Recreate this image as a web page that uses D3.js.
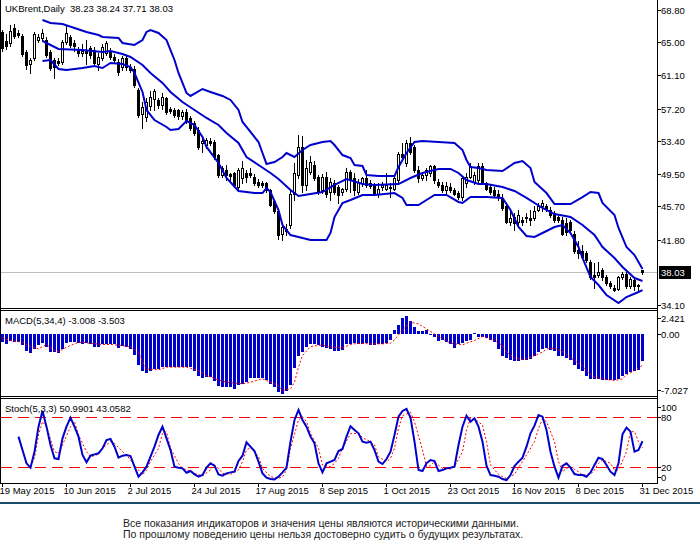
<!DOCTYPE html>
<meta charset="utf-8">
<script src="https://d3js.org/d3.v7.min.js"></script>
<style>
  body { margin: 0; background: #fff; }
  text { font-family: "Liberation Sans", Arial, sans-serif; font-size: 9.5px; fill: #000; }
  .foot { font-size: 10.5px; fill: #222; }
</style>
<div id="chart"></div>
<script>

// UKBrent daily, 19 May 2015 .. 31 Dec 2015 (161 bars)
var opens = [66.2,65.1,64.9,66.7,66.1,65.8,63.9,62.4,63.1,65.3,
  65.5,65.3,63.9,62.9,62.8,62.7,65.0,65.6,64.9,64.1,
  63.8,64.0,64.3,64.1,62.4,63.1,63.8,63.9,63.3,62.7,
  62.1,63.1,62.1,61.9,59.4,56.6,56.2,57.5,58.3,58.2,
  57.6,58.4,57.1,57.0,57.0,56.3,56.8,56.1,55.5,54.7,
  53.2,52.9,53.4,53.3,51.7,49.4,50.0,49.5,49.6,48.0,
  49.0,49.6,49.6,49.2,48.6,48.4,48.4,47.6,46.3,45.1,
  42.5,43.0,43.5,47.2,49.4,52.7,48.2,49.8,50.6,49.2,
  47.6,49.2,47.4,48.4,48.0,47.4,47.8,49.8,49.0,47.4,
  48.4,49.0,48.4,48.2,47.2,48.0,47.8,48.0,47.8,48.8,
  51.9,50.8,53.1,52.7,50.0,49.0,49.4,49.6,50.4,48.6,
  48.2,47.6,48.0,47.6,47.3,46.8,48.4,49.2,48.6,48.8,
  50.4,48.4,48.0,47.6,47.2,46.6,45.7,43.9,44.5,43.9,
  44.1,44.3,44.3,44.3,45.3,45.7,45.7,45.3,44.9,44.5,
  44.1,43.7,43.9,42.5,40.6,40.4,40.2,39.2,37.6,37.6,
  38.2,37.4,36.7,36.1,36.0,37.4,37.8,36.3,37.0,36.4,
  38.23];
var highs = [66.5,66.0,67.0,67.1,66.4,66.0,64.1,63.2,66.2,66.0,
  66.6,65.6,64.1,63.1,63.1,65.3,66.9,65.9,65.3,64.4,
  64.8,65.3,64.6,64.4,63.7,64.8,65.2,64.3,63.6,63.0,
  63.4,63.5,62.4,62.2,59.6,58.0,58.4,59.3,59.5,58.5,
  59.0,58.6,57.4,57.3,57.2,57.0,57.2,56.3,55.8,55.0,
  53.6,53.8,53.7,53.5,51.9,50.5,50.6,49.6,49.8,50.2,
  51.0,50.0,50.2,49.5,48.9,48.7,48.6,47.8,46.5,45.3,
  43.6,43.6,47.5,50.8,54.1,54.0,51.2,51.6,51.0,49.4,
  49.5,49.8,49.0,48.8,48.2,47.9,50.2,50.0,49.6,48.9,
  49.2,50.0,48.8,48.4,48.4,48.6,49.6,48.4,49.4,52.1,
  53.1,53.5,53.9,52.9,50.4,49.6,50.2,50.6,50.6,48.9,
  48.6,48.6,48.4,47.9,47.5,49.2,49.6,50.8,49.8,50.8,
  50.8,48.6,48.2,48.0,47.6,47.2,45.9,45.1,44.9,45.3,
  44.5,44.9,45.3,45.7,46.1,46.5,46.0,45.6,45.1,44.7,
  44.4,44.3,44.1,42.8,41.6,41.2,40.4,39.4,39.0,39.2,
  38.4,37.6,36.9,36.5,37.5,38.0,38.0,37.4,37.2,36.6,
  38.24];
var lows = [64.0,64.2,64.6,65.5,65.6,63.4,61.9,61.4,62.9,65.0,
  65.2,63.3,61.7,60.8,62.3,62.5,64.8,64.4,64.0,63.4,
  63.4,62.5,63.2,62.3,61.8,62.9,63.5,63.0,62.6,61.2,
  61.8,61.8,61.5,59.8,56.2,54.9,55.8,57.0,57.0,57.3,
  57.2,56.6,56.7,56.2,56.0,56.0,55.5,54.7,54.1,52.5,
  52.1,52.6,52.9,51.3,49.2,49.1,48.8,48.8,48.0,47.8,
  48.4,48.6,49.2,48.2,48.0,48.0,47.4,45.7,44.9,41.9,
  41.7,42.3,43.2,46.4,49.0,47.4,47.6,49.5,48.8,47.2,
  47.3,46.8,46.5,47.2,46.1,47.0,47.5,47.4,47.0,47.1,
  48.1,48.0,47.9,47.1,46.8,47.6,47.6,46.8,47.6,48.6,
  51.1,50.5,51.9,49.8,48.6,48.8,48.8,49.3,48.4,48.0,
  47.4,47.3,47.4,47.0,46.6,46.5,48.0,49.0,48.3,48.5,
  48.4,47.6,47.2,46.8,46.4,45.3,43.7,43.5,42.9,43.5,
  43.5,43.9,43.5,44.1,45.1,45.1,45.2,44.5,43.9,43.9,
  42.3,42.3,42.7,40.2,39.6,39.6,39.2,37.2,36.1,37.4,
  37.0,36.5,36.1,35.7,35.9,37.2,36.1,36.1,35.9,35.7,
  37.71];
var closes = [64.3,64.6,66.3,65.7,65.9,63.6,62.3,62.9,66.0,65.6,
  66.1,63.5,62.0,62.1,62.6,65.0,66.1,64.7,64.6,63.7,
  64.0,63.7,63.5,62.6,63.3,64.5,64.9,63.3,62.9,61.5,
  63.1,62.1,61.8,60.0,56.5,57.4,58.0,58.6,59.3,57.6,
  58.6,56.8,56.9,56.4,56.3,56.8,55.7,54.9,54.3,52.7,
  53.4,53.5,53.1,51.5,49.4,50.2,49.4,49.3,48.2,50.0,
  50.2,49.2,49.4,48.4,48.2,48.2,47.6,45.9,45.1,42.3,
  43.3,42.8,47.2,49.6,52.7,48.2,50.2,50.9,49.0,47.4,
  49.2,47.2,48.6,47.4,47.0,47.8,49.8,48.8,47.6,48.6,
  49.0,48.2,48.1,47.2,47.8,48.2,48.2,47.9,49.0,51.9,
  51.5,53.1,52.1,50.0,49.0,49.4,50.0,50.4,48.8,48.2,
  47.6,48.1,47.6,47.2,46.8,49.0,49.2,50.4,49.4,50.4,
  48.6,47.8,47.4,47.0,46.8,45.5,43.9,44.3,43.7,44.7,
  43.9,44.5,44.1,45.1,45.7,46.1,45.4,44.7,44.1,44.1,
  42.5,42.7,42.9,40.4,40.2,39.8,39.4,37.4,37.4,38.0,
  37.4,36.7,36.3,35.9,37.4,37.8,36.3,37.2,36.3,36.3,
  38.03];

// Bollinger bands, [bar, price]
var bbUpper = [[10,67.63],[12,67.27],[15,67.16],[18,66.69],[21,66.22],[24,65.86],[25,65.63],[29,65.51],[30,64.92],[33,64.69],
  [35,65.27],[36,66.22],[37,66.45],[39,66.1],[41,65.27],[43,62.92],[44,61.39],[46,59.04],[47,58.69],[50,59.51],
  [52,59.16],[55,58.69],[57,58.22],[59,57.04],[60,55.63],[62,54.45],[64,53.27],[65,51.98],[66,50.69],[68,50.92],
  [70,51.51],[71,51.98],[73,51.51],[75,52.33],[77,52.92],[80,53.27],[82,53.39],[83,52.92],[85,51.74],[87,51.39],
  [88,50.57],[90,50.45],[91,49.39],[94,49.27],[98,49.27],[99,50.33],[101,51.98],[103,53.27],[105,53.39],[109,53.27],
  [113,53.16],[115,52.33],[116,51.16],[117,50.33],[119,50.22],[121,49.98],[125,49.86],[128,50.8],[130,51.04],[132,50.22],
  [133,48.57],[136,47.27],[138,45.98],[142,45.98],[145,46.8],[147,47.39],[149,47.27],[150,46.1],[153,44.69],[154,43.16],
  [156,40.92],[158,39.98],[160,38.33]];
var bbMiddle = [[10,65.16],[11,64.92],[14,64.22],[20,64.1],[25,63.86],[27,63.98],[30,63.63],[32,63.27],[35,62.33],[37,61.39],
  [40,60.22],[42,59.16],[45,57.98],[48,57.04],[51,56.1],[54,55.28],[56,54.33],[59,53.16],[61,51.51],[64,50.57],
  [67,49.63],[69,48.92],[72,47.63],[74,46.92],[77,47.16],[80,47.39],[83,48.22],[86,48.92],[90,48.33],[93,48.22],
  [99,48.33],[102,49.04],[105,49.63],[109,50.1],[112,50.1],[114,49.63],[116,48.8],[119,48.33],[121,48.33],[125,47.98],
  [128,47.51],[131,46.69],[135,45.51],[138,44.8],[142,44.45],[145,43.51],[148,42.33],[150,40.92],[153,39.63],[155,38.57],
  [158,37.27],[160,36.92]];
var bbLower = [[10,62.8],[12,62.92],[14,61.86],[16,61.74],[20,61.98],[23,62.22],[25,61.98],[27,62.57],[30,62.45],[32,62.1],
  [33,61.39],[35,59.16],[36,57.04],[38,55.86],[41,55.04],[42,54.69],[44,54.8],[46,55.74],[48,55.28],[50,53.86],
  [51,52.69],[54,50.8],[56,49.04],[59,47.51],[63,47.27],[65,47.27],[66,47.86],[67,47.39],[69,45.27],[70,43.51],
  [72,42.33],[75,41.98],[77,41.74],[81,41.74],[82,42.57],[83,44.45],[85,46.1],[87,46.45],[90,47.04],[93,47.04],
  [98,47.27],[100,46.69],[101,45.86],[104,45.86],[106,46.45],[108,47.04],[111,47.04],[114,46.22],[115,46.1],[117,46.8],
  [119,46.8],[121,46.8],[125,46.69],[127,45.27],[129,43.27],[131,42.22],[133,42.1],[135,42.57],[138,43.27],[140,43.51],
  [142,42.57],[144,40.92],[145,39.63],[147,37.39],[149,36.45],[151,35.27],[154,34.33],[156,35.04],[159,35.63],[160,35.86]];

// MACD(5,34,4) histogram per bar and signal line [bar, value]
var macd = [-0.92,-1.18,-0.84,-0.92,-0.92,-1.29,-1.86,-2.16,-1.67,-1.29,
  -1.03,-1.41,-1.97,-1.97,-2.16,-1.67,-1.03,-0.92,-0.92,-0.99,
  -1.11,-0.99,-1.11,-1.41,-1.41,-1.11,-1.11,-1.11,-1.11,-1.59,
  -1.37,-1.48,-1.67,-2.31,-3.54,-4.11,-4.37,-4.11,-3.92,-3.92,
  -3.66,-3.66,-3.66,-3.66,-3.66,-3.66,-3.66,-3.73,-4.18,-4.67,
  -4.97,-4.86,-4.86,-5.34,-5.83,-5.91,-5.91,-5.91,-6.17,-5.79,
  -5.68,-5.42,-4.97,-4.97,-4.97,-4.97,-5.16,-5.61,-5.91,-6.54,
  -6.73,-6.36,-5.72,-3.84,-2.53,-1.97,-1.48,-1.11,-1.11,-1.22,
  -1.41,-1.59,-1.67,-1.86,-1.86,-1.78,-1.11,-1.11,-1.03,-1.11,
  -1.11,-1.03,-1.22,-1.22,-1.11,-1.11,-1.03,-0.73,0.47,0.96,
  1.78,2.01,1.44,0.77,0.39,0.39,0.47,-0.06,-0.36,-0.84,
  -0.73,-0.92,-1.11,-1.59,-1.11,-1.03,-0.81,-0.66,0.09,-0.36,
  -0.36,-0.43,-0.66,-0.92,-1.67,-2.53,-2.68,-2.91,-3.09,-3.09,
  -2.91,-2.91,-2.79,-2.53,-2.04,-1.67,-1.59,-1.78,-1.86,-2.42,
  -2.53,-2.68,-2.98,-3.54,-3.92,-4.18,-4.78,-5.04,-5.04,-5.04,
  -5.12,-5.16,-5.23,-5.23,-5.04,-4.67,-4.48,-4.22,-4.11,-4.03,
  -3.008];
var macdSignal = [[0,-0.43],[2,-0.73],[5,-0.92],[7,-1.41],[9,-1.67],[11,-1.18],[13,-1.86],[14,-1.97],[16,-1.48],[19,-0.92],
  [21,-0.99],[25,-1.18],[27,-1.18],[30,-1.29],[32,-1.48],[34,-2.04],[35,-3.17],[36,-3.92],[39,-4.03],[41,-3.73],
  [46,-3.73],[49,-4.11],[51,-4.67],[54,-5.16],[56,-5.42],[60,-5.61],[62,-5.42],[65,-5.04],[66,-5.23],[69,-5.79],
  [70,-6.36],[72,-6.17],[73,-5.42],[74,-3.73],[75,-2.42],[77,-1.41],[80,-1.22],[82,-1.48],[85,-1.56],[87,-1.18],
  [89,-1.03],[92,-1.11],[95,-1.11],[97,-1.03],[98,-0.66],[100,0.47],[102,1.33],[104,1.14],[106,0.58],[108,0.02],
  [110,-0.54],[111,-0.84],[113,-1.11],[115,-1.22],[116,-1.03],[118,-0.73],[120,-0.28],[121,-0.43],[123,-0.73],[125,-1.29],
  [126,-2.04],[128,-2.68],[130,-2.87],[131,-2.79],[133,-2.42],[135,-2.04],[136,-1.67],[138,-1.59],[140,-1.93],[141,-2.31],
  [143,-2.98],[145,-3.54],[146,-4.11],[148,-4.86],[150,-5.04],[151,-5.12],[153,-5.23],[155,-5.04],[156,-4.59],[158,-4.11],
  [159,-3.81],[160,-3.503]];

// Stoch(5,3,3): %K per bar (first 4 bars empty), %D as [bar, value]
var stochK = [null,null,null,null,56.4,40.4,24.4,19.2,38.4,68.4,
  87.2,68.4,46.4,30.4,29.6,54.4,68.4,79.2,68.4,56.4,
  34.4,25.6,33.6,35.2,36.4,42.4,52.4,53.6,44.4,31.2,
  33.6,34.4,33.2,20.4,8.4,13.6,20.4,32.4,44.4,58.4,
  68.4,54.4,40.4,20.4,19.2,18.4,13.2,15.2,11.2,8.4,
  10.4,19.2,24.4,21.6,11.2,9.6,12.4,13.6,14.4,27.2,
  33.6,49.6,44.4,39.2,26.4,12.4,7.2,5.6,5.2,8.4,
  13.6,19.2,50.4,76.4,88.4,76.4,68.4,56.4,48.4,24.4,
  13.6,24.4,26.4,28.4,39.2,41.6,56.4,69.0,64.4,60.4,
  50.4,49.2,50.4,40.4,26.4,23.6,29.6,38.4,58.4,80.4,
  87.2,89.6,79.2,50.4,16.4,15.2,24.4,28.4,27.2,15.2,
  16.4,18.4,19.2,20.4,46.4,68.4,81.6,74.4,78.4,68.4,
  50.4,21.6,10.4,9.6,8.4,5.6,4.4,10.4,21.2,26.4,
  31.2,44.4,60.4,69.6,82.4,80.4,64.4,38.4,20.4,7.2,
  21.2,24.4,19.2,11.6,10.4,10.4,8.4,13.6,22.4,31.2,
  29.6,22.4,14.4,10.4,24.4,59.2,67.2,62.4,38.4,40.4,
  50.99];
var stochD = [[7,20.4],[8,30.4],[9,58.4],[10,74.4],[11,68.4],[13,38.4],[14,36.4],[15,46.4],[17,68.4],[18,74.4],
  [19,58.4],[21,38.4],[22,32.4],[24,35.2],[25,42.4],[27,50.4],[28,48.4],[30,38.4],[31,34.4],[32,28.4],
  [34,16.4],[35,10.4],[36,16.4],[37,26.4],[39,42.4],[40,60.4],[41,62.4],[42,42.4],[44,24.4],[45,18.4],
  [47,15.2],[48,12.4],[50,9.6],[52,16.4],[53,22.4],[54,18.4],[55,12.4],[57,11.2],[59,16.4],[60,26.4],
  [61,40.4],[62,43.2],[64,32.4],[65,18.4],[67,8.4],[69,6.4],[70,8.4],[71,16.4],[72,42.4],[74,76.4],
  [75,80.4],[76,74.4],[77,60.4],[79,42.4],[80,22.4],[82,20.4],[83,24.4],[84,30.4],[85,42.4],[87,60.0],
  [89,60.4],[90,55.2],[92,50.4],[93,46.4],[94,32.4],[96,26.4],[97,30.4],[98,42.4],[99,66.4],[100,81.6],
  [102,85.6],[103,74.4],[105,40.4],[106,20.4],[107,21.6],[108,26.4],[109,22.4],[110,18.4],[112,17.6],[113,20.4],
  [115,38.4],[116,64.4],[117,78.4],[118,77.6],[120,70.4],[121,50.4],[122,22.4],[124,11.2],[125,8.4],[126,6.4],
  [128,11.2],[129,19.2],[130,26.4],[131,34.4],[133,50.4],[134,66.4],[135,77.6],[136,74.4],[138,50.4],[139,26.4],
  [140,14.4],[141,18.4],[142,20.4],[144,14.4],[145,10.4],[147,11.2],[148,16.4],[149,24.4],[150,28.4],[152,24.4],
  [153,16.4],[154,16.4],[156,38.4],[157,62.4],[158,62.4],[159,50.4],[160,43.06]];

var dateBars = [0,16,32,48,64,80,96,112,128,144,160];
var dateLabels = ["19 May 2015","10 Jun 2015","2 Jul 2015","24 Jul 2015","17 Aug 2015","8 Sep 2015",
  "1 Oct 2015","23 Oct 2015","16 Nov 2015","8 Dec 2015","31 Dec 2015"];
var priceTicks = [68.80,65.00,61.10,57.20,53.40,49.50,45.70,41.80,34.10];
var lastPrice = 38.03;
var macdTicks = [{v:2.421, t:"2.421", y:318}, {v:0, t:"0.00", y:334}, {v:-7.027, t:"-7.027", y:390}];
var stochTicks = [{v:100, y:407}, {v:80, y:417}, {v:20, y:467}, {v:0, y:477}];
var stochLevels = [80, 20];

var W = 700, H = 552, axisX = 657.5;
var blue = "#0000cc";

var svg = d3.select("#chart").append("svg")
  .attr("width", W).attr("height", H);

// scales
var x = d3.scaleLinear().domain([0, 160]).range([2, 642]);
function bx(i) { return Math.round(x(i)); }
var yP = d3.scaleLinear().domain([34.10, 68.80]).range([305, 10]);
var yM = d3.scaleLinear().domain([-7.027, 2.421]).range([396.5, 312.5]);
var yS = d3.scaleLinear().domain([0, 100]).range([483.7, 400.3]);
var bars = d3.range(closes.length);

// current price line
svg.append("line")
  .attr("x1", 0).attr("x2", axisX)
  .attr("y1", Math.round(yP(lastPrice)) + 0.5).attr("y2", Math.round(yP(lastPrice)) + 0.5)
  .attr("stroke", "#c0c0c0");

// candles
var pg = svg.append("g");
pg.selectAll(".wick").data(bars).enter().append("line")
  .attr("x1", function(d) { return bx(d) + 0.5; })
  .attr("x2", function(d) { return bx(d) + 0.5; })
  .attr("y1", function(d) { return Math.round(yP(highs[d])); })
  .attr("y2", function(d) { return Math.round(yP(lows[d])) + 1; })
  .attr("stroke", "#000");
pg.selectAll(".body").data(bars).enter().append("rect")
  .attr("x", function(d) { return bx(d) - 0.5; })
  .attr("width", 2)
  .attr("y", function(d) { return Math.round(yP(Math.max(opens[d], closes[d]))) + 0.5; })
  .attr("height", function(d) {
    return Math.max(0, Math.round(yP(Math.min(opens[d], closes[d]))) - Math.round(yP(Math.max(opens[d], closes[d]))));
  })
  .attr("fill", function(d) { return closes[d] >= opens[d] ? "#fff" : "#000"; })
  .attr("stroke", "#000");

// bands
var bandLine = d3.line()
  .x(function(d) { return bx(d[0]) + 0.5; })
  .y(function(d) { return yP(d[1]); });
[bbUpper, bbMiddle, bbLower].forEach(function(b) {
  svg.append("path").attr("d", bandLine(b))
    .attr("fill", "none").attr("stroke", blue).attr("stroke-width", 2);
});

// MACD histogram + signal
svg.append("g").selectAll("rect").data(bars).enter().append("rect")
  .attr("x", function(d) { return bx(d) - 1; })
  .attr("width", 3)
  .attr("y", function(d) { return Math.round(Math.min(yM(0), yM(macd[d]))); })
  .attr("height", function(d) { return Math.max(1, Math.round(Math.abs(yM(macd[d]) - yM(0)))); })
  .attr("fill", blue);
svg.append("path")
  .attr("d", d3.line().x(function(d) { return bx(d[0]) + 0.5; }).y(function(d) { return yM(d[1]); })(macdSignal))
  .attr("fill", "none").attr("stroke", "#ff0000").attr("stroke-dasharray", "2,2");

// Stochastic
stochLevels.forEach(function(l) {
  svg.append("line")
    .attr("x1", 1).attr("x2", axisX)
    .attr("y1", Math.round(yS(l)) + 0.5).attr("y2", Math.round(yS(l)) + 0.5)
    .attr("stroke", "#ff0000").attr("stroke-dasharray", "11,6");
});
svg.append("path")
  .attr("d", d3.line().x(function(d) { return bx(d[0]) + 0.5; }).y(function(d) { return yS(d[1]); })(stochD))
  .attr("fill", "none").attr("stroke", "#ff0000").attr("stroke-dasharray", "2,2");
svg.append("path")
  .attr("d", d3.line()
    .defined(function(d) { return d != null; })
    .x(function(d, i) { return bx(i) + 0.5; })
    .y(function(d) { return yS(d); })(stochK))
  .attr("fill", "none").attr("stroke", blue).attr("stroke-width", 2);

// frames
var frame = svg.append("g").attr("stroke", "#000").attr("shape-rendering", "crispEdges");
[308.5, 310.5, 396.5, 398.5, 483.5].forEach(function(yy) {
  frame.append("line").attr("x1", 0).attr("x2", axisX).attr("y1", yy).attr("y2", yy);
});
frame.append("line").attr("x1", 0.5).attr("x2", 0.5).attr("y1", 0).attr("y2", 483.5);
frame.append("line").attr("x1", axisX).attr("x2", axisX).attr("y1", 0).attr("y2", 483.5);

// price axis
priceTicks.forEach(function(v) {
  var yy = Math.round(yP(v)) + 0.5;
  frame.append("line").attr("x1", axisX).attr("x2", axisX + 3).attr("y1", yy).attr("y2", yy);
  svg.append("text").attr("x", 661).attr("y", yy + 3.5).text(d3.format(".2f")(v));
});
var ly = Math.round(yP(lastPrice));
svg.append("rect").attr("x", 659).attr("y", ly - 6).attr("width", 32).attr("height", 13).attr("fill", "#000");
svg.append("text").attr("x", 661).attr("y", ly + 4).style("fill", "#fff").text(d3.format(".2f")(lastPrice));

// MACD axis
macdTicks.forEach(function(t) {
  frame.append("line").attr("x1", axisX).attr("x2", axisX + 3).attr("y1", t.y + 0.5).attr("y2", t.y + 0.5);
  svg.append("text").attr("x", 661).attr("y", t.y + 3.5).text(t.t);
});

// Stoch axis
stochTicks.forEach(function(t) {
  frame.append("line").attr("x1", axisX).attr("x2", axisX + 3).attr("y1", t.y + 0.5).attr("y2", t.y + 0.5);
  svg.append("text").attr("x", 661).attr("y", t.y + 3.5).text(t.v);
});

// date axis
dateBars.forEach(function(b, i) {
  frame.append("line").attr("x1", bx(b) + 0.5).attr("x2", bx(b) + 0.5).attr("y1", 484).attr("y2", 487);
  svg.append("text").attr("x", bx(b) - 2.5).attr("y", 494).text(dateLabels[i]);
});

// titles
svg.append("text").attr("x", 5).attr("y", 12)
  .text("UKBrent,Daily  38.23 38.24 37.71 38.03").attr("xml:space", "preserve");
svg.append("text").attr("x", 5).attr("y", 324).text("MACD(5,34,4) -3.008 -3.503");
svg.append("text").attr("x", 5).attr("y", 412).text("Stoch(5,3,3) 50.9901 43.0582");

// footer
svg.append("rect").attr("x", 0).attr("y", 502).attr("width", W).attr("height", 2).attr("fill", "#1d4a68");
svg.append("text").attr("class", "foot").attr("x", 123).attr("y", 527)
  .text("Все показания индикаторов и значения цены являются историческими данными.");
svg.append("text").attr("class", "foot").attr("x", 123).attr("y", 538)
  .text("По прошлому поведению цены нельзя достоверно судить о будущих результатах.");

</script>
